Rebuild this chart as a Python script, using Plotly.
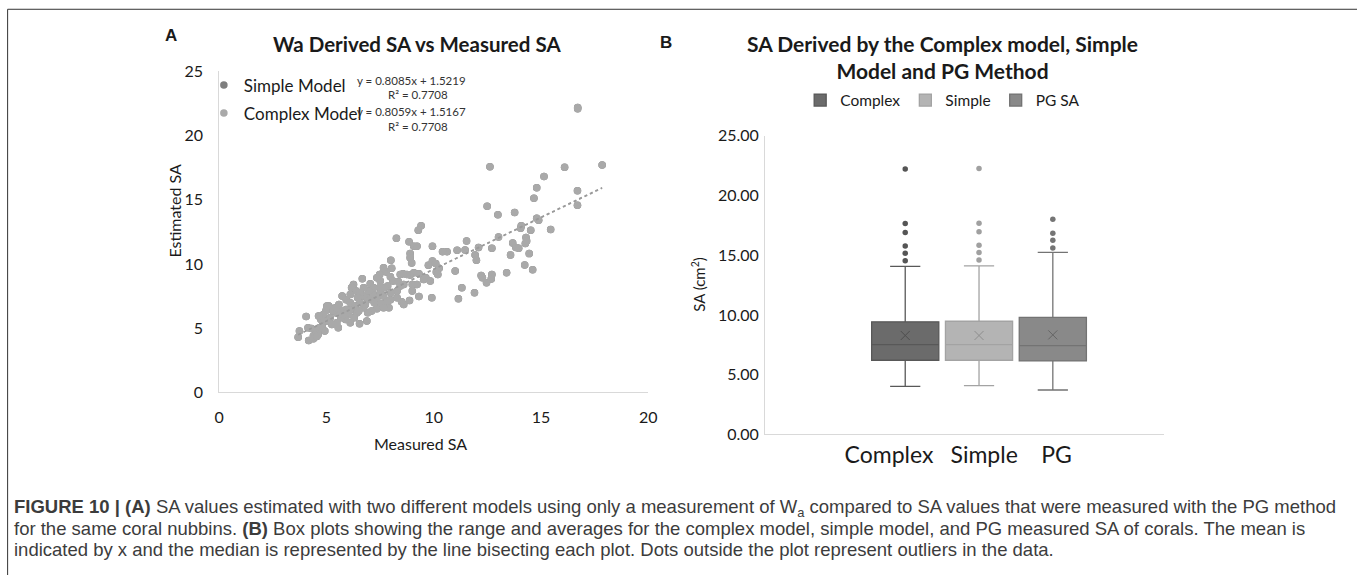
import plotly.graph_objects as go

# The photographed page ends up slightly shrunk and offset by the page margin;
# these factors map reference-pixel targets to figure pixels.
SX, SY, PAD = 0.986, 0.965, 8
DX, DY = 2, -2
FW, FH = 1368, 588


def px(x):
    return ((x + DX) / SX - PAD) / FW


def py(y):
    return 1 - ((y + DY) / SY - PAD) / FH


# ---------------- Panel A data ----------------
measured = [16.71, 16.71, 12.62, 16.1, 17.85, 15.14, 14.8, 14.67, 16.7, 16.7, 12.49, 13.77, 12.99,
            14.8, 14.89, 15.45, 14.52, 14.05, 14.08, 13.02, 14.3, 14.33, 11.53, 13.68, 14.27,
            13.83, 13.96, 12.71, 12.09, 11.46, 11.09, 10.62, 10.41, 11.93, 13.58, 14.45, 11.99,
            14.24, 14.61, 11.0, 12.71, 13.4, 12.21, 12.27, 12.68, 12.46, 11.31, 11.9, 11.15,
            9.94, 9.41, 9.28, 8.26, 8.85, 9.07, 9.22, 8.9, 8.9, 8.97, 9.94, 10.09, 9.75, 10.25,
            10.12, 10.19, 9.63, 9.84, 9.31, 9.07, 8.9, 8.75, 8.57, 9.0, 9.0, 9.31, 8.87, 9.91,
            8.5, 8.0, 8.04, 7.98, 7.79, 7.66, 7.48, 6.67, 7.04, 7.51, 7.85, 8.1, 8.35, 8.44,
            8.29, 8.0, 7.66, 7.98, 7.82, 7.54, 7.35, 7.91, 7.1, 6.92, 6.73, 6.57, 6.26, 6.17,
            6.39, 6.11, 5.73, 5.92, 6.11, 6.34, 5.92, 6.04, 6.42, 6.29, 6.54, 6.88, 6.11, 5.89,
            5.67, 5.48, 5.3, 5.11, 4.98, 4.86, 5.17, 5.02, 4.74, 4.8, 4.92, 4.67, 4.52, 4.61,
            4.39, 4.14, 4.05, 3.74, 3.68, 4.17, 4.39, 4.55, 4.3, 5.55, 5.48, 5.64, 5.79, 6.73,
            6.88, 7.04, 7.23, 7.35, 7.17, 7.51, 7.7, 7.51, 7.2, 6.96, 6.73, 6.57, 6.81, 6.45,
            5.58, 5.42, 5.02, 4.63, 5.25, 6.11, 6.5, 7.66, 7.35, 8.44, 9.22, 9.53, 8.6, 8.29,
            7.66, 8.6]
complex_est = [22.2, 22.1, 17.58, 17.53, 17.71, 16.82, 15.94, 15.13, 15.7, 14.58, 14.5, 14.01,
               13.83, 13.57, 13.41, 12.68, 12.63, 12.79, 12.97, 12.11, 12.06, 11.8, 11.8, 11.64,
               11.59, 11.28, 11.22, 11.22, 11.28, 11.09, 11.07, 10.96, 10.96, 10.7, 10.7, 10.81,
               10.29, 9.92, 9.56, 9.45, 9.19, 9.32, 9.11, 8.93, 8.83, 8.54, 8.15, 7.76, 7.29,
               11.38, 12.97, 12.63, 12.0, 11.74, 11.38, 11.38, 10.81, 10.49, 10.08, 10.23, 10.03,
               9.9, 9.66, 9.38, 9.19, 8.93, 8.67, 9.24, 9.32, 9.14, 9.19, 9.24, 8.41, 7.89, 7.47,
               7.16, 7.37, 7.06, 10.29, 9.66, 9.01, 9.38, 9.45, 9.19, 8.85, 8.46, 8.67, 8.28,
               8.67, 8.62, 8.28, 7.89, 7.76, 7.5, 7.21, 7.06, 6.93, 6.51, 6.59, 6.33, 6.2, 6.59,
               6.98, 8.41, 8.15, 7.89, 7.63, 7.5, 7.21, 6.98, 6.72, 6.46, 6.07, 6.2, 5.81, 5.34,
               5.55, 5.42, 5.68, 5.81, 6.17, 6.33, 6.72, 6.38, 6.07, 5.81, 5.55, 5.68, 5.16, 4.77,
               5.03, 4.77, 4.51, 4.38, 5.03, 5.91, 4.77, 4.3, 4.04, 4.17, 4.35, 4.97, 5.03, 5.42,
               6.38, 6.07, 7.5, 7.37, 7.24, 6.98, 7.37, 7.68, 7.76, 8.15, 8.2, 8.15, 7.89, 8.15,
               7.76, 6.85, 7.37, 6.85, 6.59, 6.72, 5.94, 5.29, 6.43, 6.33, 9.71, 8.93, 9.19, 8.41,
               8.8, 8.41, 7.37, 6.59, 6.85]
# The Simple-model points sit underneath the Complex-model points in the picture
simple_est = [22.2, 22.1, 17.58, 17.53, 17.71, 16.82, 15.94, 15.13, 15.7, 14.58, 14.5, 14.01,
              13.83, 13.57, 13.41, 12.68, 12.63, 12.79, 12.97, 12.11, 12.06, 11.8, 11.8, 11.64,
              11.59, 11.28, 11.22, 11.22, 11.28, 11.09, 11.07, 10.96, 10.96, 10.7, 10.7, 10.81,
              10.29, 9.92, 9.56, 9.45, 9.19, 9.32, 9.11, 8.93, 8.83, 8.54, 8.15, 7.76, 7.29,
              11.38, 12.97, 12.63, 12.0, 11.74, 11.38, 11.38, 10.81, 10.49, 10.08, 10.23, 10.03,
              9.9, 9.66, 9.38, 9.19, 8.93, 8.67, 9.24, 9.32, 9.14, 9.19, 9.24, 8.41, 7.89, 7.47,
              7.16, 7.37, 7.06, 10.29, 9.66, 9.01, 9.38, 9.45, 9.19, 8.85, 8.46, 8.67, 8.28,
              8.67, 8.62, 8.28, 7.89, 7.76, 7.5, 7.21, 7.06, 6.93, 6.51, 6.59, 6.33, 6.2, 6.59,
              6.98, 8.41, 8.15, 7.89, 7.63, 7.5, 7.21, 6.98, 6.72, 6.46, 6.07, 6.2, 5.81, 5.34,
              5.55, 5.42, 5.68, 5.81, 6.17, 6.33, 6.72, 6.38, 6.07, 5.81, 5.55, 5.68, 5.16, 4.77,
              5.03, 4.77, 4.51, 4.38, 5.03, 5.91, 4.77, 4.3, 4.04, 4.17, 4.35, 4.97, 5.03, 5.42,
              6.38, 6.07, 7.5, 7.37, 7.24, 6.98, 7.37, 7.68, 7.76, 8.15, 8.2, 8.15, 7.89, 8.15,
              7.76, 6.85, 7.37, 6.85, 6.59, 6.72, 5.94, 5.29, 6.43, 6.33, 9.71, 8.93, 9.19, 8.41,
              8.8, 8.41, 7.37, 6.59, 6.85]

trend_slope = {"Simple Model": 0.8085, "Complex Model": 0.8059}
trend_icept = {"Simple Model": 1.5219, "Complex Model": 1.5167}
r_squared = {"Simple Model": 0.7708, "Complex Model": 0.7708}

x_ticks_a = [0, 5, 10, 15, 20]
y_ticks_a = [0, 5, 10, 15, 20, 25]

# ---------------- Panel B data ----------------
box_cats = ["Complex", "Simple", "PG"]
box_label_pos = [-0.22, 1.07, 2.05]   # where the category words sit under the boxes
box_names = ["Complex", "Simple", "PG SA"]
box_q1 = [6.21, 6.21, 6.15]
box_median = [7.52, 7.52, 7.44]
box_q3 = [9.42, 9.47, 9.79]
box_low = [4.03, 4.08, 3.72]
box_high = [14.07, 14.10, 15.24]
box_mean = [8.28, 8.28, 8.33]
box_outliers = [
    [22.2, 17.64, 16.89, 15.77, 15.16, 14.54],
    [22.25, 17.68, 16.95, 15.83, 15.22, 14.6],
    [18.01, 16.84, 16.25, 15.6],
]
y_ticks_b = [0, 5, 10, 15, 20, 25]

# ---------------- Styles ----------------
FONT = "Lato"
CAP_FONT = "Liberation Sans"
TXT = "#1a1a1a"
box_fill = ["#6b6b6b", "#b4b4b4", "#898989"]
box_line = ["#585858", "#a3a3a3", "#737373"]
out_col = ["#555555", "#a0a0a0", "#757575"]
mean_col = ["#4e4e4e", "#8e8e8e", "#656565"]
scatter_col = {"Simple Model": "#7f7f7f", "Complex Model": "#a9a9a9"}

fig = go.Figure()

# Panel A scatter
for name, ys in [("Simple Model", simple_est), ("Complex Model", complex_est)]:
    fig.add_trace(go.Scatter(
        x=measured, y=ys, mode="markers", name=name, legend="legend",
        legendgroup=name,
        marker=dict(size=7.5, color=scatter_col[name]),
        xaxis="x", yaxis="y", hoverinfo="x+y",
    ))
for name in ["Simple Model", "Complex Model"]:
    xs = [min(measured), max(measured)]
    fig.add_trace(go.Scatter(
        x=xs, y=[trend_slope[name] * v + trend_icept[name] for v in xs],
        mode="lines", line=dict(color="#9a9a9a", width=1.4, dash="dot"),
        showlegend=False, xaxis="x", yaxis="y", hoverinfo="skip",
    ))

# Panel B boxes
for i, cat in enumerate(box_cats):
    fig.add_trace(go.Box(
        x=[i], q1=[box_q1[i]], median=[box_median[i]], q3=[box_q3[i]],
        lowerfence=[box_low[i]], upperfence=[box_high[i]],
        name=box_names[i], legend="legend2", width=0.91, whiskerwidth=0.45,
        fillcolor=box_fill[i], line=dict(color=box_line[i], width=1.3),
        boxpoints=False, xaxis="x2", yaxis="y2",
    ))
    fig.add_trace(go.Scatter(
        x=[i] * len(box_outliers[i]), y=box_outliers[i], mode="markers",
        marker=dict(size=5.5, color=out_col[i]), showlegend=False,
        xaxis="x2", yaxis="y2",
    ))
    fig.add_trace(go.Scatter(
        x=[i], y=[box_mean[i]], mode="markers",
        marker=dict(symbol="x-thin", size=9, line=dict(width=1, color=mean_col[i])),
        showlegend=False, xaxis="x2", yaxis="y2",
    ))

axis_line = "#d9d9d9"
fig.update_layout(
    width=FW, height=FH,
    margin=dict(l=0, r=0, t=0, b=0),
    paper_bgcolor="white", plot_bgcolor="white",
    font=dict(family=FONT, color=TXT),
    boxmode="overlay",
    xaxis=dict(domain=[px(219.3), px(646.7)], range=[0, 20], tickvals=x_ticks_a,
               showgrid=False, zeroline=False, showline=True, linecolor=axis_line,
               ticks="", tickfont=dict(size=16, family=FONT, color=TXT),
               ticklabelstandoff=10, fixedrange=True),
    yaxis=dict(domain=[py(391), py(71)], range=[0, 25], tickvals=y_ticks_a,
               showgrid=False, zeroline=False, showline=True, linecolor=axis_line,
               ticks="", tickfont=dict(size=16, family=FONT, color=TXT),
               ticklabelstandoff=12, fixedrange=True),
    xaxis2=dict(domain=[px(763), px(1160)], range=[-1.9, 3.5], anchor="y2",
                tickvals=box_label_pos, ticktext=box_cats, tickangle=0,
                showgrid=False, zeroline=False, showline=True, linecolor=axis_line,
                ticks="", tickfont=dict(size=23, family=FONT, color=TXT),
                ticklabelstandoff=0, fixedrange=True),
    yaxis2=dict(domain=[py(433), py(135)], range=[0, 25], anchor="x2",
                tickvals=y_ticks_b, tickformat=".2f",
                showgrid=False, zeroline=False, showline=True, linecolor=axis_line,
                ticks="", tickfont=dict(size=16, family=FONT, color=TXT),
                ticklabelstandoff=2, fixedrange=True),
    legend=dict(x=px(204), y=py(67), xanchor="left", yanchor="top",
                bgcolor="rgba(0,0,0,0)", font=dict(size=17, family=FONT, color=TXT),
                itemwidth=30, tracegroupgap=3),
    legend2=dict(x=px(940), y=py(100), xanchor="center", yanchor="middle",
                 orientation="h", bgcolor="rgba(0,0,0,0)",
                 font=dict(size=15.5, family=FONT, color=TXT), itemwidth=30),
    showlegend=True,
)

ann = []
# panel letters and titles
ann.append(dict(text="<b>A</b>", x=px(171), y=py(35), font=dict(size=17, family="Liberation Sans")))
ann.append(dict(text="<b>Wa Derived SA vs Measured SA</b>", x=px(416), y=py(44),
                font=dict(size=20.5, family=FONT)))
ann.append(dict(text="<b>B</b>", x=px(664), y=py(42), font=dict(size=17, family="Liberation Sans")))
ann.append(dict(text="<b>SA Derived by the Complex model, Simple<br>Model and PG Method</b>",
                x=px(940), y=py(57), font=dict(size=21, family=FONT)))
# axis titles
ann.append(dict(text="Measured SA", x=px(420), y=py(442), font=dict(size=16, family=FONT)))
ann.append(dict(text="Estimated SA", x=px(175), y=py(210), textangle=-90,
                font=dict(size=16, family=FONT)))
ann.append(dict(text="SA (cm<sup>2</sup>)", x=px(696), y=py(283), textangle=-90,
                font=dict(size=15, family=FONT)))
# trendline equations
eq_rows = [("Simple Model", 80, 94), ("Complex Model", 111, 126)]
for name, y1, y2 in eq_rows:
    ann.append(dict(text=f"y = {trend_slope[name]:.4f}x + {trend_icept[name]:.4f}",
                    x=px(411), y=py(y1), font=dict(size=11.5, family=FONT, color="#333333")))
    ann.append(dict(text=f"R² = {r_squared[name]:.4f}", x=px(417), y=py(y2),
                    font=dict(size=11.5, family=FONT, color="#333333")))
# caption
cap = [
    "<b>FIGURE 10 | (A)</b> SA values estimated with two different models using only a measurement of "
    "W<sub>a</sub> compared to SA values that were measured with the PG method",
    "for the same coral nubbins. <b>(B)</b> Box plots showing the range and averages for the complex model, "
    "simple model, and PG measured SA of corals. The mean is",
    "indicated by x and the median is represented by the line bisecting each plot. Dots outside the plot "
    "represent outliers in the data.",
]
for line, yy in zip(cap, [506, 527, 548]):
    ann.append(dict(text=line, x=px(13), y=py(yy), xanchor="left",
                    font=dict(size=18.5, family=CAP_FONT, color="#3c3c3c")))

for a in ann:
    a.setdefault("xref", "paper")
    a.setdefault("yref", "paper")
    a.setdefault("showarrow", False)
    a.setdefault("xanchor", "center")
    a.setdefault("yanchor", "middle")
fig.update_layout(annotations=ann)

# outer frame
fig.add_shape(type="rect", xref="paper", yref="paper", x0=px(8.5), x1=px(1355), y0=-0.05, y1=py(9),
              line=dict(color="#333333", width=1))

fig.write_html("out.html")
